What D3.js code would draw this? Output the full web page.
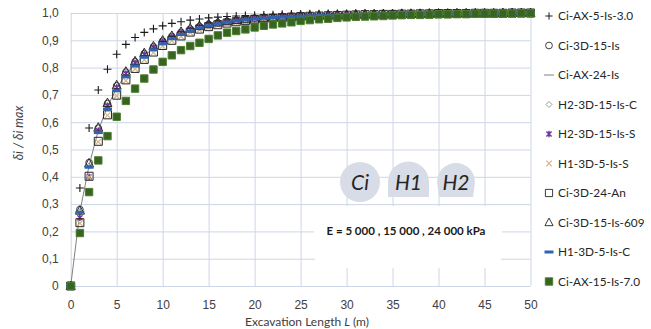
<!DOCTYPE html>
<html>
<head>
<meta charset="utf-8">
<script src="https://cdn.jsdelivr.net/npm/d3@7"></script>
<style>
  body { margin: 0; background: #fff; }
  svg { display: block; font-family: 'Lato', 'Open Sans', sans-serif; }
  .grid line { stroke: #cdd6e6; stroke-width: 1; }
  .grid .domain { display: none; }
  .tick text { fill: #404040; font-size: 12px; }
</style>
</head>
<body>
<svg width="651" height="329"></svg>
<script>
const lengths = d3.range(0, 51);
const xTicks = [0, 5, 10, 15, 20, 25, 30, 35, 40, 45, 50];
const yTicks = [0, 0.1, 0.2, 0.3, 0.4, 0.5, 0.6, 0.7, 0.8, 0.9, 1.0];

const ciAx5 = [0, .359, .579, .718, .794, .849, .885, .910, .929, .942, .953, .962, .968, .974, .978, .982, .985, .987, .989, .991, .992, .993, .994, .995, .996, .996, .997, .997, .998, .998, .998, .999, .999, .999, .999, .999, 1, 1, 1, 1, 1, 1, 1, 1, 1, 1, 1, 1, 1, 1, 1];
const ci3d15 = [0, .280, .452, .578, .668, .733, .783, .821, .851, .876, .897, .914, .929, .941, .950, .958, .964, .969, .973, .977, .980, .982, .984, .986, .987, .988, .989, .990, .991, .992, .993, .994, .994, .995, .995, .996, .996, .997, .997, .997, .998, .998, .998, .998, .999, .999, .999, .999, 1, 1, 1];
const ciAx24 = [0, .272, .442, .570, .658, .724, .775, .814, .845, .870, .891, .909, .924, .937, .947, .955, .962, .967, .971, .975, .978, .981, .983, .985, .986, .988, .989, .990, .991, .992, .993, .993, .994, .995, .995, .996, .996, .997, .997, .997, .998, .998, .998, .999, .999, .999, .999, .999, 1, 1, 1];
const h2C = [0, .272, .440, .570, .660, .726, .777, .816, .847, .872, .893, .911, .926, .938, .948, .956, .962, .967, .972, .975, .978, .981, .983, .985, .986, .988, .989, .990, .991, .992, .993, .993, .994, .995, .995, .996, .996, .997, .997, .997, .998, .998, .998, .999, .999, .999, .999, .999, 1, 1, 1];
const h2S = [0, .250, .400, .568, .660, .727, .778, .817, .848, .874, .895, .912, .927, .939, .949, .957, .963, .968, .972, .976, .979, .981, .983, .985, .986, .988, .989, .990, .991, .992, .993, .993, .994, .995, .995, .996, .996, .997, .997, .997, .998, .998, .998, .999, .999, .999, .999, .999, 1, 1, 1];
const h1S = [0, .230, .398, .528, .625, .697, .752, .795, .828, .855, .879, .898, .914, .928, .939, .948, .956, .962, .967, .971, .975, .978, .981, .983, .985, .986, .988, .989, .990, .991, .992, .993, .993, .994, .995, .995, .996, .996, .997, .997, .997, .998, .998, .998, .999, .999, .999, .999, 1, 1, 1];
const ci3d24An = [0, .232, .402, .530, .627, .699, .755, .797, .830, .857, .881, .900, .916, .930, .941, .950, .957, .963, .968, .972, .976, .979, .981, .983, .985, .987, .988, .989, .990, .991, .992, .993, .994, .994, .995, .995, .996, .996, .997, .997, .998, .998, .998, .998, .999, .999, .999, .999, 1, 1, 1];
const ci3d609 = [0, .276, .449, .580, .670, .735, .785, .823, .853, .878, .899, .916, .931, .943, .952, .959, .965, .970, .974, .977, .980, .982, .984, .986, .987, .989, .990, .991, .992, .993, .993, .994, .995, .995, .996, .996, .997, .997, .997, .998, .998, .998, .999, .999, .999, .999, .999, 1, 1, 1, 1];
const h1C = [0, .270, .435, .562, .648, .715, .766, .806, .838, .865, .887, .906, .921, .934, .945, .953, .960, .966, .971, .975, .978, .981, .983, .985, .986, .988, .989, .990, .991, .992, .993, .993, .994, .995, .995, .996, .996, .997, .997, .997, .998, .998, .998, .999, .999, .999, .999, .999, 1, 1, 1];
const ciAx15 = [0, .194, .344, .460, .549, .620, .678, .723, .760, .793, .821, .845, .864, .879, .891, .905, .918, .928, .934, .940, .947, .953, .958, .962, .966, .971, .974, .977, .979, .982, .984, .986, .987, .988, .989, .991, .992, .993, .993, .994, .995, .995, .996, .996, .997, .997, .998, .998, .998, .999, .999];

const seriesNames = ['Ci-AX-5-Is-3.0', 'Ci-3D-15-Is', 'Ci-AX-24-Is', 'H2-3D-15-Is-C', 'H2-3D-15-Is-S',
  'H1-3D-5-Is-S', 'Ci-3D-24-An', 'Ci-3D-15-Is-609', 'H1-3D-5-Is-C', 'Ci-AX-15-Is-7.0'];
const seriesValues = [ciAx5, ci3d15, ciAx24, h2C, h2S, h1S, ci3d24An, ci3d609, h1C, ciAx15];

// marker styles, in the same order as the names
const markers = [
  { path: 'M-4,0H4M0,-4V4', stroke: '#1a1a1a', fill: 'none', sw: 1.1 },
  { path: d3.symbol(d3.symbolCircle, 36)(), stroke: '#404040', fill: 'none', sw: 1 },
  { line: true, stroke: '#808080' },
  { path: 'M0,-3L3,0L0,3L-3,0Z', stroke: '#7f7f7f', fill: 'none', sw: 0.8 },
  { path: 'M-2.6,-2.6L2.6,2.6M-2.6,2.6L2.6,-2.6M0,-3.2V3.2', stroke: '#7030a0', fill: 'none', sw: 1.4 },
  { path: 'M-2.8,-2.8L2.8,2.8M-2.8,2.8L2.8,-2.8', stroke: '#d4b483', fill: 'none', sw: 1.2 },
  { path: 'M-4,-4H4V4H-4Z', stroke: '#262626', fill: 'none', sw: 1 },
  { path: 'M0,-5L4.5,3.5H-4.5Z', stroke: '#262626', fill: 'none', sw: 1 },
  { path: 'M-4.5,-1.5H4.5V1.5H-4.5Z', stroke: 'none', fill: '#2f63b4', sw: 0 },
  { path: 'M-3.7,-3.7H3.7V3.7H-3.7Z', stroke: '#4e7f2e', fill: '#376421', sw: 1 }
];

const svg = d3.select('svg');
const plotLeft = 70.7, plotRight = 530.5, plotTop = 13, plotBottom = 286;

const x = d3.scaleLinear().domain([0, 50]).range([plotLeft, plotRight]);
const y = d3.scaleLinear().domain([0, 1]).range([plotBottom, plotTop]);

const yFormat = d => d === 0 ? '0' : d3.format('.1f')(d).replace('.', ',');

// gridlines
svg.append('g')
  .attr('class', 'grid')
  .attr('transform', 'translate(0,' + plotBottom + ')')
  .call(d3.axisBottom(x).tickValues(xTicks).tickSize(-(plotBottom - plotTop)).tickFormat(''));
svg.append('g')
  .attr('class', 'grid')
  .attr('transform', 'translate(' + plotLeft + ',0)')
  .call(d3.axisLeft(y).tickValues(yTicks).tickSize(-(plotRight - plotLeft)).tickFormat(''));

// white box behind the modulus note
svg.append('rect')
  .attr('x', 314).attr('y', 206)
  .attr('width', 188).attr('height', 62)
  .attr('rx', 14)
  .attr('fill', '#fff');

// tunnel shapes
const shapes = svg.append('g').attr('fill', '#d7dce6');
shapes.append('circle').attr('cx', 360).attr('cy', 182).attr('r', 20);
shapes.append('path').attr('d', 'M388,197 L388,182 A20.5,20.5 0 0 1 429,182 L429,197 Z');
shapes.append('path').attr('d', 'M439,197 L437,182 A19,19 0 0 1 475,182 L473,197 Z');

const shapeText = svg.append('g')
  .attr('font-size', 21).attr('font-style', 'italic').attr('fill', '#262626')
  .attr('text-anchor', 'middle');
shapeText.append('text').attr('x', 360).attr('y', 190).text('Ci');
shapeText.append('text').attr('x', 408.5).attr('y', 190).text('H1');
shapeText.append('text').attr('x', 456).attr('y', 190).text('H2');

svg.append('text')
  .attr('x', 406).attr('y', 235)
  .attr('text-anchor', 'middle')
  .attr('font-size', 11.5).attr('font-weight', 'bold').attr('fill', '#1a1a1a')
  .text('E = 5 000 , 15 000 , 24 000 kPa');

// tick labels
const xAxis = svg.append('g')
  .attr('transform', 'translate(0,' + plotBottom + ')')
  .call(d3.axisBottom(x).tickValues(xTicks).tickSize(0).tickPadding(14));
xAxis.select('.domain').remove();

const yAxis = svg.append('g')
  .attr('transform', 'translate(' + plotLeft + ',0)')
  .call(d3.axisLeft(y).tickValues(yTicks).tickSize(0).tickPadding(12).tickFormat(yFormat));
yAxis.select('.domain').remove();

// axis titles
const xTitle = svg.append('text')
  .attr('x', 307).attr('y', 326)
  .attr('text-anchor', 'middle')
  .attr('font-size', 12).attr('fill', '#404040');
xTitle.append('tspan').text('Excavation Length ');
xTitle.append('tspan').attr('font-style', 'italic').text('L');
xTitle.append('tspan').text(' (m)');

svg.append('text')
  .attr('transform', 'translate(23,133) rotate(-90)')
  .attr('text-anchor', 'middle')
  .attr('font-size', 12.5).attr('font-style', 'italic').attr('fill', '#404040')
  .text('δi / δi max');

// series
const line = d3.line()
  .x((d, i) => x(lengths[i]))
  .y(d => y(d));

seriesValues.forEach((vals, k) => {
  const m = markers[k];
  if (m.line) {
    svg.append('path')
      .datum(vals)
      .attr('d', line)
      .attr('fill', 'none')
      .attr('stroke', m.stroke)
      .attr('stroke-width', 1);
    return;
  }
  svg.append('g')
    .selectAll('path')
    .data(vals)
    .join('path')
      .attr('transform', (d, i) => 'translate(' + x(lengths[i]) + ',' + y(d) + ')')
      .attr('d', m.path)
      .attr('fill', m.fill)
      .attr('stroke', m.stroke)
      .attr('stroke-width', m.sw);
});

// legend
const legend = svg.append('g')
  .selectAll('g')
  .data(seriesNames)
  .join('g')
    .attr('transform', (d, i) => 'translate(549,' + (16 + i * 29.5) + ')');

legend.each(function(name, k) {
  const g = d3.select(this);
  const m = markers[k];
  if (m.line) {
    g.append('line').attr('x1', -5).attr('x2', 5).attr('stroke', m.stroke).attr('stroke-width', 1);
  } else {
    g.append('path')
      .attr('d', m.path)
      .attr('transform', k === 0 || k === 6 || k === 7 ? 'scale(0.9)' : null)
      .attr('fill', m.fill)
      .attr('stroke', m.stroke)
      .attr('stroke-width', m.sw);
  }
  g.append('text')
    .attr('x', 9).attr('y', 4)
    .attr('font-size', 11.8).attr('fill', '#262626')
    .text(name);
});
</script>
</body>
</html>
